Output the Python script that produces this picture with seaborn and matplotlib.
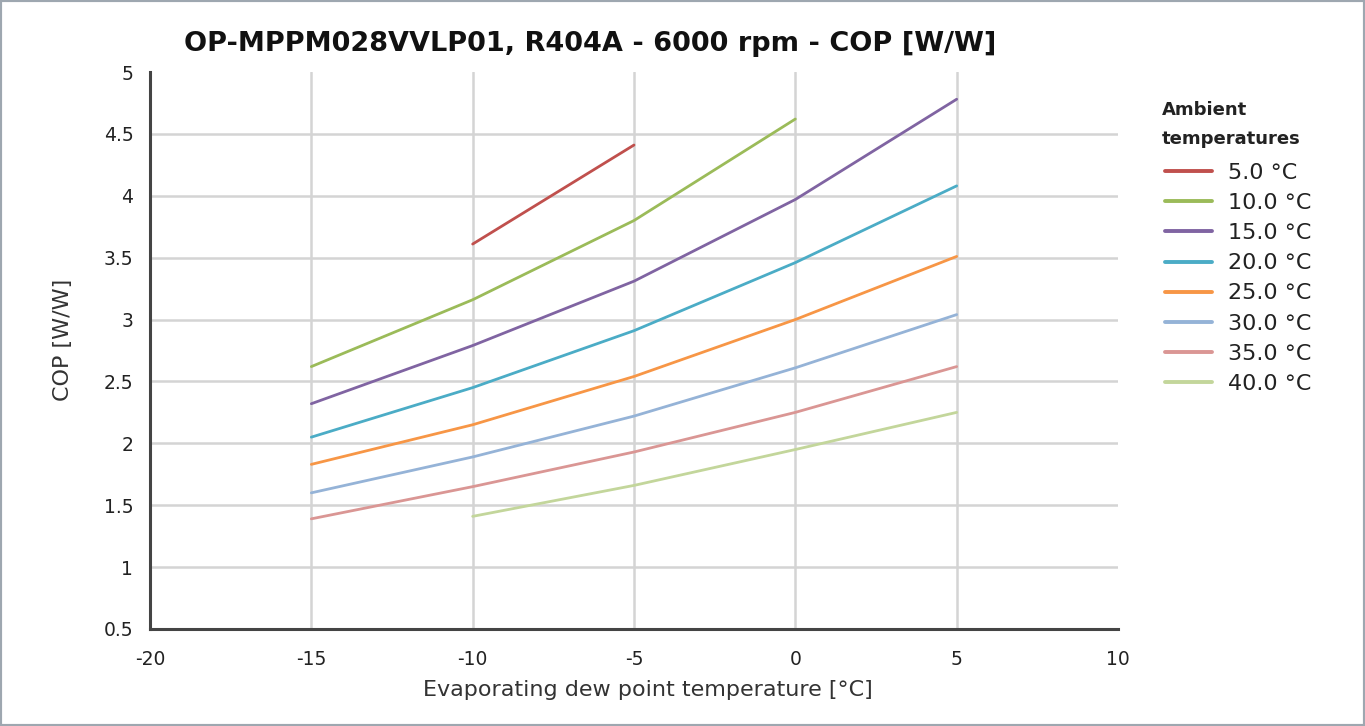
import numpy as np
import pandas as pd
import matplotlib
matplotlib.use("Agg")
import matplotlib.pyplot as plt
import seaborn as sns
from matplotlib.patches import Rectangle

# ---- data ----
evap_temps = [-15, -10, -5, 0, 5]
ambient_labels = ["5.0 °C", "10.0 °C", "15.0 °C", "20.0 °C", "25.0 °C", "30.0 °C", "35.0 °C", "40.0 °C"]
cop_5 = [np.nan, 3.61, 4.41, np.nan, np.nan]
cop_10 = [2.62, 3.16, 3.80, 4.62, np.nan]
cop_15 = [2.32, 2.79, 3.31, 3.97, 4.78]
cop_20 = [2.05, 2.45, 2.91, 3.46, 4.08]
cop_25 = [1.83, 2.15, 2.54, 3.00, 3.51]
cop_30 = [1.60, 1.89, 2.22, 2.61, 3.04]
cop_35 = [1.39, 1.65, 1.93, 2.25, 2.62]
cop_40 = [np.nan, 1.41, 1.66, 1.95, 2.25]
series = [cop_5, cop_10, cop_15, cop_20, cop_25, cop_30, cop_35, cop_40]
colors = ["#c0504d", "#9bbb59", "#8064a2", "#4bacc6", "#f79646", "#95b3d7", "#da9694", "#c3d69b"]
x_ticks = [-20, -15, -10, -5, 0, 5, 10]
y_ticks = [0.5, 1, 1.5, 2, 2.5, 3, 3.5, 4, 4.5, 5]
y_tick_labels = ["0.5", "1", "1.5", "2", "2.5", "3", "3.5", "4", "4.5", "5"]

rows = []
for lab, vals in zip(ambient_labels, series):
    for x, v in zip(evap_temps, vals):
        if not np.isnan(v):
            rows.append({"evap": x, "cop": v, "ambient": lab})
df = pd.DataFrame(rows)

sns.set_style("white")
plt.rcParams["font.family"] = ["DejaVu Sans"]

fig = plt.figure(figsize=(13.65, 7.26), dpi=100)
ax = fig.add_axes([150/1365, 1-629/726, (1118-150)/1365, (629-72)/726])

sns.lineplot(data=df, x="evap", y="cop", hue="ambient", hue_order=ambient_labels,
             palette=dict(zip(ambient_labels, colors)), linewidth=2.0, ax=ax, legend=False)

ax.set_xlim(-20, 10)
ax.set_ylim(0.5, 5)
ax.set_xticks(x_ticks)
ax.set_yticks(y_ticks)
ax.set_xticklabels([str(t) for t in x_ticks])
ax.set_yticklabels(y_tick_labels)
ax.grid(True, color="#d4d4d4", linewidth=1.8)
ax.set_axisbelow(True)
# hide grid lines that coincide with the plot edges
ax.xaxis.get_gridlines()[0].set_visible(False)
ax.xaxis.get_gridlines()[-1].set_visible(False)
ax.yaxis.get_gridlines()[0].set_visible(False)
ax.yaxis.get_gridlines()[-1].set_visible(False)

for s in ["top", "right"]:
    ax.spines[s].set_visible(False)
for s in ["left", "bottom"]:
    ax.spines[s].set_color("#444444")
    ax.spines[s].set_linewidth(2.2)
ax.tick_params(axis="both", which="major", direction="out", length=6, width=1.5,
               color="#bbbbbb", labelsize=13.5, labelcolor="#222222")
ax.tick_params(axis="x", pad=9)
ax.tick_params(axis="y", pad=6)

ax.set_xlabel("Evaporating dew point temperature [°C]", fontsize=16, color="#333333")
ax.xaxis.set_label_coords((648-150)/968, -(680-629)/557)
ax.set_ylabel("COP [W/W]", fontsize=16, color="#333333")
ax.yaxis.set_label_coords(-(150-73)/968, (629-340)/557)

fig.text(590/1365, 1-44/726, "OP-MPPM028VVLP01, R404A - 6000 rpm - COP [W/W]",
         ha="center", va="center", fontsize=19.5, fontweight="bold", color="#111111")

fig.text(1162/1365, 1-101/726, "Ambient\ntemperatures", ha="left", va="top",
         fontsize=13, fontweight="bold", color="#222222", linespacing=1.75)

handles = [plt.Line2D([0], [0], color=c, linewidth=2.8) for c in colors]
leg = fig.legend(handles, ambient_labels,
                 loc="upper left", bbox_to_anchor=(1165/1365, 1-163/726),
                 frameon=False, fontsize=16, handlelength=2.1, handletextpad=0.72,
                 labelspacing=0.455, borderaxespad=0, borderpad=0)
for t in leg.get_texts():
    t.set_color("#222222")

fig.patches.append(Rectangle((0, 0), 1, 1, transform=fig.transFigure, fill=False,
                             edgecolor="#9ea7b0", linewidth=3, zorder=10))

fig.savefig("out.png", dpi=100)
